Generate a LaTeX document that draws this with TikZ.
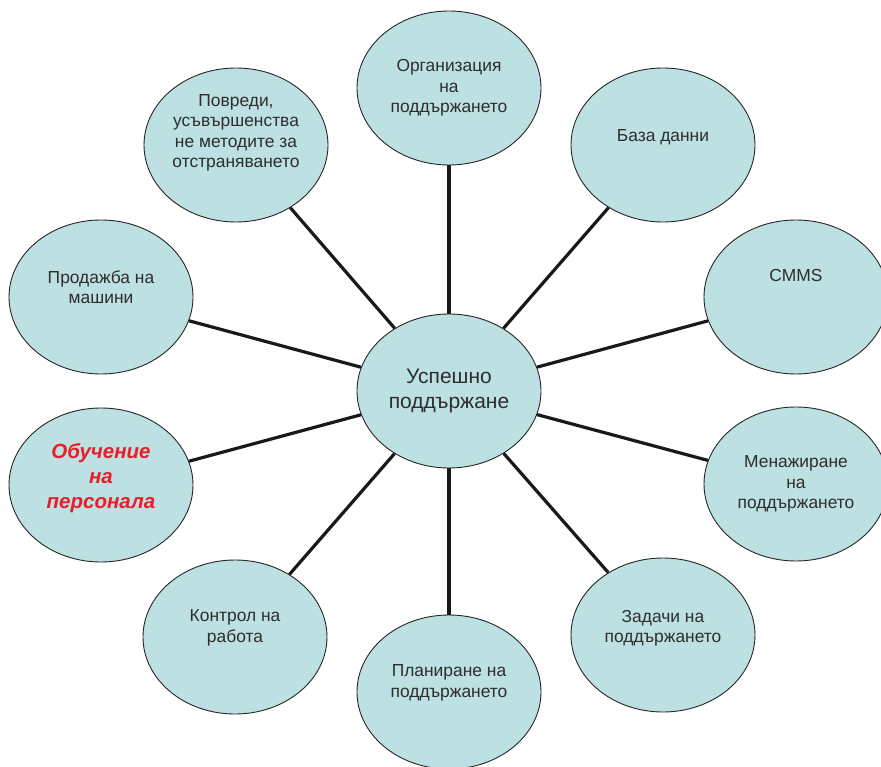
\documentclass[tikz,border=0pt]{standalone}
\usepackage{fontspec}
\setmainfont{Liberation Sans}
\usetikzlibrary{shapes.geometric}
\definecolor{bubblefill}{RGB}{189,224,227}
\definecolor{txtgray}{RGB}{45,45,45}
\definecolor{alertred}{RGB}{232,30,40}
\begin{document}
\begin{tikzpicture}[x=1pt, y=-1pt,
    bubble/.style={ellipse, draw=black!85, line width=0.9pt, fill=bubblefill,
      minimum width=184pt, minimum height=154pt, inner sep=0pt},
    txt/.style={align=center, text=txtgray, font=\fontsize{17.4}{20.5}\selectfont},
    spoke/.style={line width=3.2pt, draw=black!90}]
  \clip (0,0) rectangle (881,767);
  \def\cx{449}
  \def\cy{391}
  \node[bubble] (hub) at (\cx,\cy) {};
  \node[bubble] (org) at (449,88) {};
  \node[bubble] (db) at (663,145) {};
  \node[bubble] (cmms) at (796,297) {};
  \node[bubble] (mgmt) at (796,484) {};
  \node[bubble] (tasks) at (663,635) {};
  \node[bubble] (plan) at (449,692) {};
  \node[bubble] (ctrl) at (235,637) {};
  \node[bubble] (train) at (101,485) {};
  \node[bubble] (sales) at (101,297) {};
  \node[bubble] (fail) at (236,145) {};
  \foreach \n in {org,db,cmms,mgmt,tasks,plan,ctrl,train,sales,fail}
    \draw[spoke] (hub) -- (\n);
  \node[txt, font=\fontsize{21}{25.5}\selectfont] (hub-t) at (hub) {Успешно\\поддържане};
  \node[txt] (org-t) at (org) {Организация\\на\\поддържането};
  \node[txt] (db-t) at ([yshift=8pt]db.center) {База данни};
  \node[txt] (cmms-t) at ([yshift=21pt]cmms.center) {CMMS};
  \node[txt] (mgmt-t) at (mgmt) {Менажиране\\на\\поддържането};
  \node[txt] (tasks-t) at ([yshift=7pt]tasks.center) {Задачи на\\поддържането};
  \node[txt] (plan-t) at ([yshift=9pt]plan.center) {Планиране на\\поддържането};
  \node[txt] (ctrl-t) at ([yshift=9pt]ctrl.center) {Контрол на\\работа};
  \node[txt, text=alertred, font=\fontsize{20.5}{25}\selectfont\bfseries\itshape]
    (train-t) at ([yshift=7pt]train.center) {Обучение\\на\\персонала};
  \node[txt] (sales-t) at ([yshift=10pt]sales.center) {Продажба на\\машини};
  \node[txt] (fail-t) at ([yshift=12pt]fail.center) {Повреди,\\усъвършенства\\не методите за\\отстраняването};
\end{tikzpicture}
\end{document}
